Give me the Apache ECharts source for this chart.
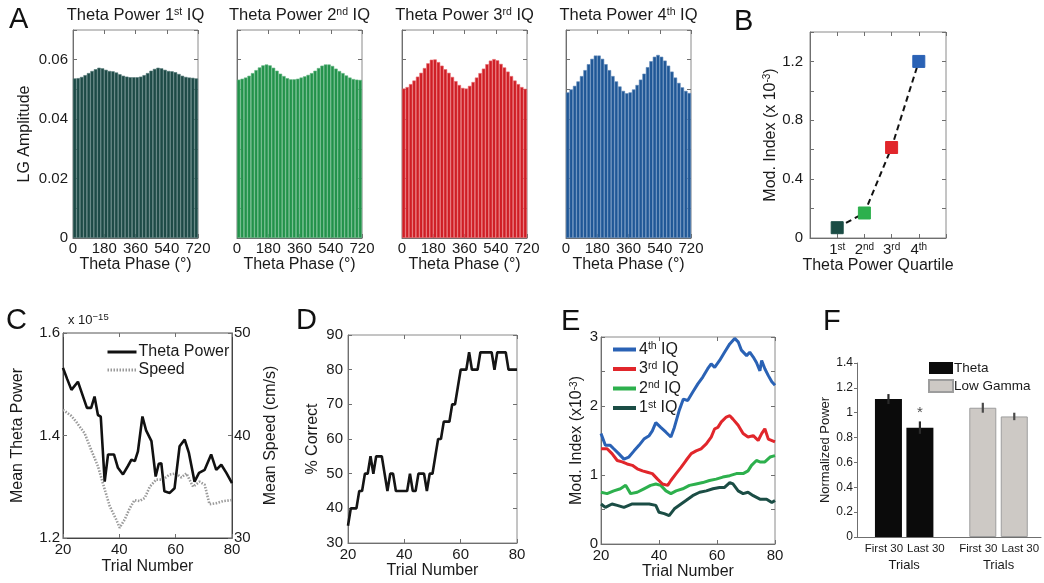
<!DOCTYPE html>
<html>
<head>
<meta charset="utf-8">
<title>Theta / low gamma modulation</title>
<script src="https://cdn.jsdelivr.net/npm/echarts@6/dist/echarts.min.js"></script>
<style>
  html, body { margin: 0; padding: 0; background: #fff; }
  #main { width: 1044px; height: 583px; }
</style>
</head>
<body>
<div id="main"></div>
<script>
// ---------- data ----------
// A: LG amplitude per theta phase bin, one array per theta power quartile
var phaseBins = [10, 30, 50, 70, 90, 110, 130, 150, 170, 190, 210, 230, 250, 270, 290, 310, 330, 350,
                 370, 390, 410, 430, 450, 470, 490, 510, 530, 550, 570, 590, 610, 630, 650, 670, 690, 710];
var ampQ1 = [0.0537, 0.0538, 0.0542, 0.0548, 0.0555, 0.0562, 0.0568, 0.0573, 0.0571, 0.0566, 0.0562, 0.0561,
             0.0557, 0.0551, 0.0546, 0.0543, 0.0541, 0.0541, 0.0541, 0.0543, 0.0548, 0.0555, 0.0563, 0.0569,
             0.0573, 0.0571, 0.0566, 0.0562, 0.0561, 0.0558, 0.0552, 0.0546, 0.0542, 0.0540, 0.0539, 0.0537];
var ampQ2 = [0.0533, 0.0536, 0.0540, 0.0546, 0.0555, 0.0565, 0.0574, 0.0581, 0.0584, 0.0581, 0.0573, 0.0563,
             0.0553, 0.0545, 0.0538, 0.0534, 0.0534, 0.0536, 0.0540, 0.0544, 0.0549, 0.0555, 0.0563, 0.0572,
             0.0580, 0.0584, 0.0584, 0.0579, 0.0570, 0.0562, 0.0555, 0.0547, 0.0540, 0.0535, 0.0533, 0.0532];
var ampQ3 = [0.0503, 0.0508, 0.0518, 0.0530, 0.0543, 0.0556, 0.0572, 0.0588, 0.0600, 0.0601, 0.0592, 0.0580,
             0.0568, 0.0556, 0.0542, 0.0528, 0.0515, 0.0505, 0.0503, 0.0512, 0.0525, 0.0540, 0.0555, 0.0570,
             0.0585, 0.0597, 0.0602, 0.0598, 0.0586, 0.0574, 0.0560, 0.0545, 0.0530, 0.0518, 0.0508, 0.0502];
var ampQ4 = [0.0490, 0.0500, 0.0512, 0.0527, 0.0545, 0.0565, 0.0585, 0.0603, 0.0614, 0.0614, 0.0603, 0.0585,
             0.0565, 0.0545, 0.0527, 0.0510, 0.0495, 0.0487, 0.0490, 0.0500, 0.0515, 0.0533, 0.0553, 0.0575,
             0.0595, 0.0610, 0.0616, 0.0610, 0.0597, 0.0580, 0.0560, 0.0540, 0.0522, 0.0507, 0.0495, 0.0488];

// B: modulation index per quartile
var quartileNames = ['1st', '2nd', '3rd', '4th'];
var quartilePos = [1, 2, 3, 4];
var modIndex = [0.07, 0.17, 0.615, 1.2];

// C: mean theta power (x1e-15) and mean speed vs trial
var thetaTrial = [20, 21.5, 23, 25.3, 28.5, 30, 31.2, 32.4, 33.4, 34.8, 36, 38.1, 39.5, 41.3, 43, 44.3, 45.5, 46.6,
                  48.2, 49.5, 51.4, 52.9, 54, 54.9, 56, 57.9, 59.6, 61.4, 63.2, 64.7, 66.7, 68.3, 70.3, 72.6,
                  74.4, 76.2, 78, 80];
var thetaPower = [1.532, 1.51, 1.489, 1.505, 1.454, 1.454, 1.476, 1.44, 1.437, 1.31, 1.363, 1.363, 1.337, 1.324,
                  1.34, 1.353, 1.35, 1.369, 1.437, 1.41, 1.389, 1.32, 1.345, 1.346, 1.291, 1.288, 1.297, 1.379,
                  1.392, 1.366, 1.31, 1.327, 1.333, 1.363, 1.333, 1.343, 1.327, 1.307];
var speedTrial = [20, 23, 24.5, 27.7, 30, 32.4, 34.1, 36.6, 38.9, 40.1, 41.9, 43.7, 45.4, 47.2, 49, 50.8, 53.1,
                  55.5, 57.9, 60.2, 62, 63.8, 66.2, 68.5, 70.3, 72, 74.4, 76.8, 80];
var speedVal = [42.5, 41.9, 41.4, 40.2, 38.6, 37.0, 35.4, 33.1, 31.8, 31.0, 31.8, 32.9, 33.7, 33.6, 33.9, 35.0,
                35.7, 35.7, 36.2, 36.3, 35.9, 36.3, 35.0, 35.5, 35.2, 33.3, 33.4, 33.6, 33.7];

// D: percent correct vs trial
var corrTrial = [20, 21, 22, 23, 24, 25, 26, 27, 28, 29, 30, 31, 32, 33, 34, 35, 36, 37, 38, 39, 40, 41, 42, 43,
                 44, 45, 46, 47, 48, 49, 50, 51, 52, 53, 54, 55, 56, 57, 58, 59, 60, 61, 62, 63, 64, 65, 66, 67,
                 68, 69, 70, 71, 72, 73, 74, 75, 76, 77, 78, 79, 80];
var pctCorrect = [35, 40, 40, 40, 45, 45, 50, 50, 55, 50, 55, 55, 55, 50, 45, 50, 50, 45, 45, 45, 45, 45, 50, 45,
                  45, 50, 50, 50, 45, 50, 50, 55, 60, 60, 65, 65, 65, 70, 70, 75, 80, 80, 80, 85, 80, 80, 80, 85,
                  85, 85, 85, 85, 80, 85, 85, 85, 85, 80, 80, 80, 80];

// E: modulation index (x1e-3) vs trial, per quartile
var miTrialQ4 = [20, 21.5, 23.2, 24.4, 26.1, 27.9, 29.6, 31.4, 33.1, 34.8, 36.6, 37.7, 38.9, 40.6, 42.4, 44.1,
                 45.3, 47, 48.4, 49.9, 51.6, 53.4, 55.1, 56.8, 58, 59.2, 60.9, 62.6, 64.4, 66.1, 67.3, 68.4,
                 70.2, 71.3, 72.5, 73.6, 74.8, 75.4, 76.5, 77.7, 78.9, 80];
var miQ4 = [1.6, 1.43, 1.43, 1.38, 1.31, 1.23, 1.26, 1.35, 1.43, 1.52, 1.57, 1.64, 1.76, 1.69, 1.62, 1.55, 1.69,
            1.94, 2.1, 2.08, 2.2, 2.32, 2.42, 2.54, 2.61, 2.56, 2.66, 2.78, 2.9, 2.98, 2.93, 2.81, 2.73, 2.78,
            2.71, 2.63, 2.51, 2.66, 2.54, 2.44, 2.35, 2.3];
var miTrialQ3 = [20, 22.1, 23.8, 25.6, 27.3, 29, 30.8, 32.5, 34.3, 36, 37.7, 39.5, 41.2, 43, 44.1, 45.9, 47.6,
                 49.3, 51.1, 52.8, 54.5, 56.3, 58, 59.2, 60.3, 61.5, 63.2, 64.4, 65.5, 67.3, 69, 70.7, 72.5,
                 74.2, 75.4, 76.5, 77.7, 80];
var miQ3 = [1.38, 1.38, 1.31, 1.21, 1.19, 1.16, 1.14, 1.09, 1.06, 1.04, 1.02, 0.94, 0.87, 0.85, 0.92, 1.02, 1.11,
            1.21, 1.31, 1.35, 1.38, 1.45, 1.55, 1.67, 1.69, 1.77, 1.84, 1.86, 1.81, 1.72, 1.6, 1.55, 1.57, 1.5,
            1.6, 1.67, 1.52, 1.48];
var miTrialQ2 = [20, 22.1, 24.4, 26.7, 28.5, 30.2, 32.5, 34.8, 37.1, 38.9, 40.6, 42.4, 44.1, 45.9, 48.2, 50.5,
                 52.8, 55.1, 57.4, 59.7, 62, 64.4, 66.7, 69, 70.7, 71.9, 73.6, 74.8, 76.5, 78.3, 80];
var miQ2 = [0.75, 0.73, 0.77, 0.8, 0.85, 0.73, 0.75, 0.8, 0.85, 0.87, 0.85, 0.77, 0.73, 0.77, 0.8, 0.85, 0.87,
            0.89, 0.92, 0.94, 0.97, 0.99, 1.02, 1.02, 1.06, 1.14, 1.21, 1.19, 1.19, 1.26, 1.28];
var miTrialQ1 = [20, 21.5, 23.8, 25.6, 27.9, 30.8, 33.7, 36.6, 38.9, 40, 41.8, 43.5, 45.3, 47.6, 49.3, 51.6, 54,
                 56.3, 58.6, 60.9, 62.6, 64.4, 65.5, 67.3, 69, 70.7, 72.5, 74.8, 77.1, 78.9, 80];
var miQ1 = [0.58, 0.53, 0.58, 0.56, 0.53, 0.58, 0.58, 0.58, 0.56, 0.46, 0.44, 0.41, 0.51, 0.58, 0.63, 0.7, 0.75,
            0.77, 0.8, 0.82, 0.82, 0.89, 0.87, 0.77, 0.73, 0.75, 0.7, 0.65, 0.65, 0.6, 0.63];

// F: normalized power, first vs last 30 trials
var fBarLabels = ['First 30', 'Last 30'];
var thetaPos = [1, 2];
var thetaNorm = [1.11, 0.88];
var thetaErr = [0.04, 0.05];
var gammaPos = [4, 5];
var gammaNorm = [1.04, 0.97];
var gammaErr = [0.04, 0.03];

// ---------- helpers ----------
var FONT = '"Liberation Sans", Arial, Helvetica, sans-serif';
var AXC = '#6f6f6f';
var TXT = '#1a1a1a';

function zip(xs, ys) {
  return xs.map(function (x, i) { return [x, ys[i]]; });
}
function merge(a, b) {
  var o = {}, k;
  for (k in a) o[k] = a[k];
  for (k in b) {
    if (b[k] && typeof b[k] === 'object' && !Array.isArray(b[k]) && a[k] && typeof a[k] === 'object') {
      o[k] = merge(a[k], b[k]);
    } else {
      o[k] = b[k];
    }
  }
  return o;
}
function supRich(size, supSize) {
  return {
    n: { fontFamily: FONT, fontSize: size, fontWeight: 'normal', color: TXT },
    s: { fontFamily: FONT, fontSize: supSize, fontWeight: 'normal', color: TXT, verticalAlign: 'top',
         padding: [0, 0, Math.round(size * 0.35), 0] }
  };
}

var baseAxis = {
  type: 'value',
  axisLine: { show: true, onZero: false, lineStyle: { color: AXC, width: 1 } },
  axisTick: { show: true, inside: true, length: 4, lineStyle: { color: AXC } },
  splitLine: { show: false },
  axisLabel: { fontFamily: FONT, fontSize: 15, color: TXT, margin: 4 },
  nameLocation: 'middle',
  nameTextStyle: { fontFamily: FONT, fontSize: 16, color: TXT }
};
function ax(o) { return merge(baseAxis, o); }
// tick marks mirrored on the top / right edge of a boxed panel (MATLAB style)
function mirror(a, pos) {
  return merge(a, { position: pos, name: '', axisLine: { show: false }, axisLabel: { show: false } });
}

var frame = { show: true, borderColor: '#8a8a8a', borderWidth: 1, backgroundColor: 'transparent' };

// ---------- layout ----------
var aLeft = [73, 237, 402, 566];
var grids = aLeft.map(function (l) { return merge(frame, { left: l, top: 30, width: 125, height: 208 }); });
grids.push(merge(frame, { left: 810, top: 32, width: 136, height: 206 }));   // B
grids.push(merge(frame, { left: 63, top: 333, width: 169, height: 205, borderColor: '#555' })); // C
grids.push(merge(frame, { left: 348, top: 335, width: 169, height: 208 }));  // D
grids.push(merge(frame, { left: 601, top: 337, width: 174, height: 207 }));  // E
grids.push({ show: false, left: 857, top: 363, width: 187, height: 174 });    // F

var xAxes = [], yAxes = [];
var mirrorX = [], mirrorY = [];
aLeft.forEach(function (l, i) {
  xAxes.push(ax({ gridIndex: i, min: 0, max: 720, interval: 180, name: 'Theta Phase (°)', nameGap: 18,
                  axisLabel: { margin: 3 } }));
  yAxes.push(ax({ gridIndex: i, min: 0, max: 0.07, interval: 0.01,
                  name: i === 0 ? 'LG Amplitude' : '', nameGap: 40,
                  axisLabel: { show: i === 0, margin: 5, formatter: function (v) {
                    var k = Math.round(v * 100);
                    if (k % 2 !== 0) return '';
                    return k === 0 ? '0' : (k / 100).toFixed(2);
                  } } }));
});
// B
xAxes.push(ax({ gridIndex: 4, min: 0, max: 5, interval: 1, name: 'Theta Power Quartile', nameGap: 19,
                axisLabel: { margin: 4, rich: supRich(15, 10), formatter: function (v) {
                  var i = quartilePos.indexOf(v);
                  if (i < 0) return '';
                  var q = quartileNames[i];
                  return '{n|' + q.charAt(0) + '}{s|' + q.slice(1) + '}';
                } } }));
yAxes.push(ax({ gridIndex: 4, min: 0, max: 1.4, interval: 0.2, nameGap: 30,
                name: '{n|Mod. Index (x 10}{s|-3}{n|)}', nameTextStyle: { rich: supRich(16, 10) },
                axisLabel: { margin: 7, formatter: function (v) {
                  var k = Math.round(v * 10);
                  if (k % 4 !== 0) return '';
                  return k === 0 ? '0' : (k / 10).toFixed(1);
                } } }));
// C
xAxes.push(ax({ gridIndex: 5, min: 20, max: 80, interval: 20, name: 'Trial Number', nameGap: 21,
                axisLine: { lineStyle: { color: '#444' } } }));
yAxes.push(ax({ gridIndex: 5, min: 1.2, max: 1.6, interval: 0.2, name: 'Mean Theta Power', nameGap: 37,
                axisLine: { lineStyle: { color: '#444' } },
                axisLabel: { margin: 3, formatter: function (v) { return v.toFixed(1); } } }));
yAxes.push(ax({ gridIndex: 5, position: 'right', min: 30, max: 50, interval: 10, name: 'Mean Speed (cm/s)',
                nameGap: 31, axisLine: { lineStyle: { color: '#444' } }, axisLabel: { margin: 2 } }));
// D
xAxes.push(ax({ gridIndex: 6, min: 20, max: 80, interval: 20, name: 'Trial Number', nameGap: 19 }));
yAxes.push(ax({ gridIndex: 6, min: 30, max: 90, interval: 10, name: '% Correct', nameGap: 27,
                axisLabel: { margin: 5 } }));
// E
xAxes.push(ax({ gridIndex: 7, min: 20, max: 80, interval: 20, name: 'Trial Number', nameGap: 18 }));
yAxes.push(ax({ gridIndex: 7, min: 0, max: 3, interval: 0.5, nameGap: 16,
                name: '{n|Mod. Index (x10}{s|-3}{n|)}', nameTextStyle: { rich: supRich(16, 10) },
                axisLabel: { margin: 3, formatter: function (v) { return v % 1 === 0 ? String(v) : ''; } } }));
// F
xAxes.push(ax({ gridIndex: 8, position: 'bottom', min: 0, max: 5.85, interval: 1, axisTick: { show: false },
                axisLabel: { margin: 6,
                  rich: { f: { fontFamily: FONT, fontSize: 11.5, color: TXT, padding: [0, 9, 0, 0] },
                          l: { fontFamily: FONT, fontSize: 11.5, color: TXT, padding: [0, 0, 0, 12] } },
                  formatter: function (v) {
                    var i = thetaPos.indexOf(v), j = gammaPos.indexOf(v);
                    var k = i >= 0 ? i : j;
                    if (k < 0) return '';
                    return (k === 0 ? '{f|' : '{l|') + fBarLabels[k] + '}';
                  } } }));
xAxes.push(ax({ gridIndex: 8, position: 'bottom', min: 0, max: 5.85, interval: 0.5, offset: 16,
                axisLine: { show: false }, axisTick: { show: false },
                axisLabel: { fontSize: 13, margin: 6, formatter: function (v) {
                  return (v === 1.5 || v === 4.5) ? 'Trials' : '';
                } } }));
yAxes.push(ax({ gridIndex: 8, min: 0, max: 1.4, interval: 0.2, name: 'Normalized Power', nameGap: 19,
                nameTextStyle: { fontSize: 13 }, axisTick: { inside: false, length: 3 },
                axisLabel: { fontSize: 12, margin: 4, formatter: function (v) { return String(Math.round(v * 10) / 10); } } }));

// mirrored ticks on the framed panels (added after the data axes so indices stay fixed)
[0, 1, 2, 3, 4, 5, 6, 7].forEach(function (i) { mirrorX.push(mirror(xAxes[i], 'top')); });
[0, 1, 2, 3, 4, 7, 8].forEach(function (i) { mirrorY.push(mirror(yAxes[i], 'right')); });
xAxes = xAxes.concat(mirrorX);
yAxes = yAxes.concat(mirrorY);

// ---------- series ----------
var ampSets = [ampQ1, ampQ2, ampQ3, ampQ4];
var ampFill = ['#1d4a46', '#22924a', '#cf1d24', '#1f5796'];
var ampEdge = ['#4f7673', '#62b681', '#e8686c', '#5d87b8'];
var series = [];
ampSets.forEach(function (arr, i) {
  series.push({
    type: 'bar', xAxisIndex: i, yAxisIndex: i, barWidth: 125 / phaseBins.length,
    data: zip(phaseBins, arr),
    itemStyle: { color: ampFill[i], borderColor: ampEdge[i], borderWidth: 0.6 },
    silent: true
  });
});

var qColors = ['#1b4d45', '#2db04d', '#e1262b', '#2a62b5'];
series.push({
  type: 'line', xAxisIndex: 4, yAxisIndex: 4, symbol: 'rect', symbolSize: 12,
  lineStyle: { color: '#111', width: 2, type: [6, 4] },
  data: quartilePos.map(function (p, i) {
    return { value: [p, modIndex[i]], itemStyle: { color: qColors[i], borderColor: qColors[i] } };
  })
});

series.push({
  name: 'Theta Power', type: 'line', xAxisIndex: 5, yAxisIndex: 5, symbol: 'none',
  lineStyle: { color: '#111', width: 2.6 }, itemStyle: { color: '#111' },
  data: zip(thetaTrial, thetaPower)
});
series.push({
  name: 'Speed', type: 'line', xAxisIndex: 5, yAxisIndex: 6, symbol: 'none', z: 1,
  lineStyle: { color: '#9a9a9a', width: 2.6, type: [1.5, 1.5] }, itemStyle: { color: '#9a9a9a' },
  data: zip(speedTrial, speedVal)
});

series.push({
  type: 'line', xAxisIndex: 6, yAxisIndex: 7, symbol: 'none',
  lineStyle: { color: '#151515', width: 2.6 },
  data: zip(corrTrial, pctCorrect)
});

var eSets = [
  { name: '1st IQ', x: miTrialQ1, y: miQ1, c: qColors[0] },
  { name: '2nd IQ', x: miTrialQ2, y: miQ2, c: qColors[1] },
  { name: '3rd IQ', x: miTrialQ3, y: miQ3, c: qColors[2] },
  { name: '4th IQ', x: miTrialQ4, y: miQ4, c: qColors[3] }
];
eSets.forEach(function (s) {
  series.push({
    name: s.name, type: 'line', xAxisIndex: 7, yAxisIndex: 8, symbol: 'none',
    lineStyle: { color: s.c, width: 3 }, itemStyle: { color: s.c },
    data: zip(s.x, s.y)
  });
});

series.push({
  name: 'Theta', type: 'bar', xAxisIndex: 8, yAxisIndex: 9, barWidth: 27, barGap: '-100%',
  itemStyle: { color: '#0b0b0b' }, data: zip(thetaPos, thetaNorm)
});
series.push({
  name: 'Low Gamma', type: 'bar', xAxisIndex: 8, yAxisIndex: 9, barWidth: 27, barGap: '-100%',
  itemStyle: { color: '#cdc9c5', borderColor: '#9d9d9d', borderWidth: 1 }, data: zip(gammaPos, gammaNorm)
});
function errSeries(pos, vals, errs, col) {
  return {
    type: 'custom', xAxisIndex: 8, yAxisIndex: 9, z: 5,
    data: pos.map(function (p, i) { return [p, vals[i], errs[i]]; }),
    renderItem: function (params, api) {
      var x = api.value(0), v = api.value(1), e = api.value(2);
      var lo = api.coord([x, v - e]), hi = api.coord([x, v + e]);
      return { type: 'line', shape: { x1: lo[0], y1: lo[1], x2: hi[0], y2: hi[1] },
               style: { stroke: col, lineWidth: 2.2 } };
    }
  };
}
series.push(errSeries(thetaPos, thetaNorm, thetaErr, '#2a2a2a'));
series.push(errSeries(gammaPos, gammaNorm, gammaErr, '#4a4a4a'));
series.push({
  type: 'scatter', xAxisIndex: 8, yAxisIndex: 9, symbolSize: 0,
  data: [[thetaPos[1], thetaNorm[1] + thetaErr[1]]],
  label: { show: true, position: 'top', distance: 1, formatter: '*', fontFamily: FONT, fontSize: 15, color: TXT }
});

// ---------- titles / legends ----------
var letterStyle = { fontFamily: FONT, fontSize: 29, fontWeight: 'normal', color: '#111' };
var titles = [
  { text: 'A', left: 9, top: 5 }, { text: 'B', left: 734, top: 7 },
  { text: 'C', left: 6, top: 306 }, { text: 'D', left: 296, top: 306 },
  { text: 'E', left: 561, top: 307 }, { text: 'F', left: 823, top: 307 }
].map(function (t) { return merge(t, { padding: 0, textStyle: letterStyle }); });

['1st', '2nd', '3rd', '4th'].forEach(function (q, i) {
  titles.push({
    left: aLeft[i] + 62.5, top: 7, textAlign: 'center', padding: 0,
    text: '{n|Theta Power ' + q.charAt(0) + '}{s|' + q.slice(1) + '}{n| IQ}',
    textStyle: { fontWeight: 'normal', rich: supRich(16.5, 10.5) }
  });
});
titles.push({
  left: 68, top: 312, padding: 0, text: '{n|x 10}{s|−15}',
  textStyle: { fontWeight: 'normal',
               rich: { n: { fontFamily: FONT, fontSize: 13, fontWeight: 'normal', color: TXT },
                       s: { fontFamily: FONT, fontSize: 9.5, fontWeight: 'normal', color: TXT, verticalAlign: 'top',
                            padding: [0, 0, 7, 0] } } }
});

var hideSymbol = { opacity: 0 };
var legends = [
  { data: ['Theta Power', 'Speed'], left: 106, top: 344, orient: 'vertical', itemWidth: 29, itemHeight: 12,
    itemGap: 2, padding: 0, selectedMode: false, itemStyle: hideSymbol, lineStyle: { width: 3 },
    textStyle: { fontFamily: FONT, fontSize: 16, color: TXT, padding: [0, 0, 0, -3] } },
  { data: ['4th IQ', '3rd IQ', '2nd IQ', '1st IQ'], left: 611, top: 341, orient: 'vertical', itemWidth: 23,
    itemHeight: 12, itemGap: 3, padding: 0, selectedMode: false, itemStyle: hideSymbol, lineStyle: { width: 4 },
    formatter: function (n) { return '{n|' + n.charAt(0) + '}{s|' + n.slice(1, 3) + '}{n|' + n.slice(3) + '}'; },
    textStyle: { rich: supRich(16, 10.5), padding: [0, 0, 0, -2] } },
  { data: ['Theta', 'Low Gamma'], left: 928, top: 361, orient: 'vertical', itemWidth: 24, itemHeight: 12,
    itemGap: 4, padding: 0, selectedMode: false, icon: 'rect',
    textStyle: { fontFamily: FONT, fontSize: 13.5, color: TXT, padding: [0, 0, 0, -4] } }
];

var chart = echarts.init(document.getElementById('main'));
chart.setOption({
  backgroundColor: '#fff',
  animation: false,
  title: titles,
  legend: legends,
  grid: grids,
  xAxis: xAxes,
  yAxis: yAxes,
  series: series
});
</script>
</body>
</html>
